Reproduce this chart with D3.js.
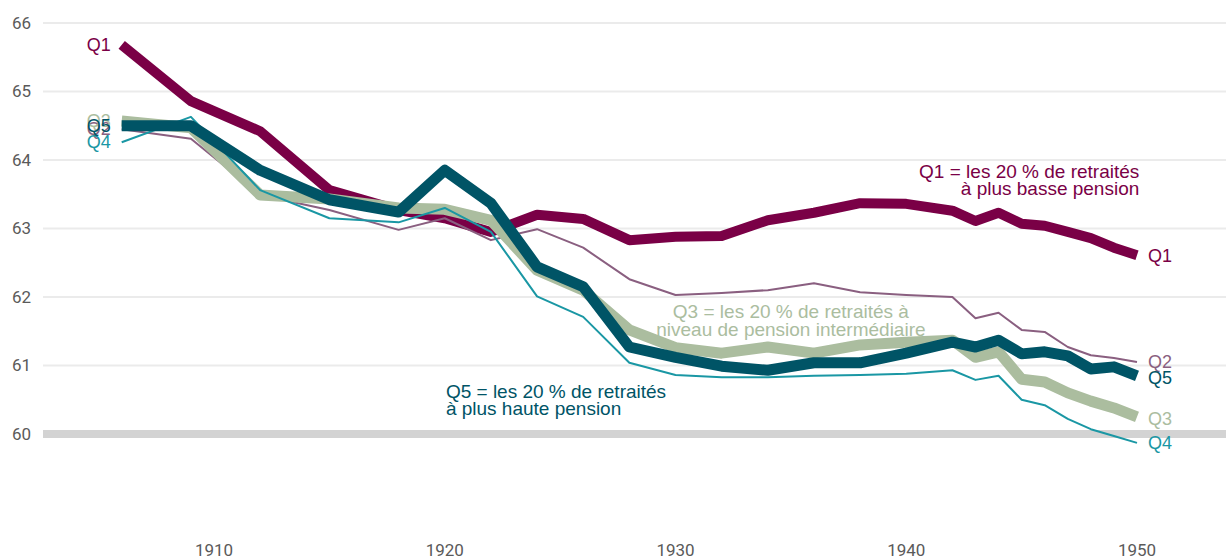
<!DOCTYPE html>
<html>
<head>
<meta charset="utf-8">
<script src="https://cdn.jsdelivr.net/npm/d3@7"></script>
<style>
  body { margin: 0; background: #fff; }
  svg { display: block; font-family: "Liberation Sans", Arial, sans-serif; }
  .tick-label { font-family: "Roboto", sans-serif; fill: #5a5a5a; font-size: 17px; }
</style>
</head>
<body>
<svg id="chart-svg" width="1226" height="560"></svg>
<script>
// Years of observation
const years = [1906, 1909, 1912, 1915, 1918, 1920, 1922, 1924, 1926, 1928, 1930, 1932, 1934, 1936, 1938, 1940, 1942, 1943, 1944, 1945, 1946, 1947, 1948, 1949, 1950];

// Age moyen de départ par quintile de pension
const q1 = [65.68, 64.86, 64.42, 63.56, 63.27, 63.15, 62.95, 63.20, 63.14, 62.83, 62.88, 62.89, 63.12, 63.23, 63.37, 63.36, 63.26, 63.11, 63.23, 63.07, 63.04, 62.95, 62.86, 62.72, 62.61];
const q2 = [64.45, 64.31, 63.49, 63.27, 62.98, 63.15, 62.83, 62.99, 62.72, 62.26, 62.03, 62.06, 62.10, 62.20, 62.07, 62.03, 62.00, 61.69, 61.77, 61.52, 61.49, 61.27, 61.15, 61.11, 61.05];
const q3 = [64.57, 64.47, 63.49, 63.43, 63.30, 63.28, 63.12, 62.39, 62.10, 61.52, 61.26, 61.18, 61.27, 61.18, 61.30, 61.34, 61.37, 61.12, 61.20, 60.80, 60.76, 60.60, 60.48, 60.38, 60.25];
const q4 = [64.26, 64.63, 63.56, 63.15, 63.09, 63.30, 62.95, 62.01, 61.71, 61.04, 60.86, 60.83, 60.83, 60.85, 60.86, 60.88, 60.93, 60.79, 60.85, 60.50, 60.42, 60.22, 60.07, 59.97, 59.87];
const q5 = [64.50, 64.50, 63.85, 63.42, 63.24, 63.85, 63.37, 62.44, 62.15, 61.27, 61.12, 60.99, 60.93, 61.04, 61.04, 61.18, 61.34, 61.27, 61.37, 61.17, 61.20, 61.14, 60.95, 60.98, 60.85];

const yTicks = [60, 61, 62, 63, 64, 65, 66];
const xTicks = [1910, 1920, 1930, 1940, 1950];

const colors = { Q1: "#7a0046", Q2: "#8a5f80", Q3: "#abbd9f", Q4: "#1a97a4", Q5: "#005466" };
const widths = { Q1: 10, Q2: 2, Q3: 11, Q4: 2, Q5: 11 };

const series = [
  { name: "Q1", values: q1 },
  { name: "Q2", values: q2 },
  { name: "Q3", values: q3 },
  { name: "Q4", values: q4 },
  { name: "Q5", values: q5 }
];

const svg = d3.select('#chart-svg');

// Scales
const xScale = d3.scaleLinear().domain([1910, 1950]).range([214, 1137]);
const yScale = d3.scaleLinear().domain([60, 66]).range([434, 23]);

// Y gridlines (60 drawn as a thicker reference line)
svg.append("g")
  .selectAll("line")
  .data(yTicks)
  .join("line")
  .attr("x1", 43)
  .attr("x2", 1226)
  .attr("y1", d => yScale(d))
  .attr("y2", d => yScale(d))
  .attr("stroke", d => d === 60 ? "#d3d3d3" : "#ebebeb")
  .attr("stroke-width", d => d === 60 ? 8 : 2);

// Y tick labels
svg.append("g")
  .selectAll("text")
  .data(yTicks)
  .join("text")
  .attr("class", "tick-label")
  .attr("x", 31)
  .attr("y", d => yScale(d))
  .attr("dy", "0.35em")
  .attr("text-anchor", "end")
  .text(d => d);

// X tick labels
svg.append("g")
  .selectAll("text")
  .data(xTicks)
  .join("text")
  .attr("class", "tick-label")
  .attr("x", d => xScale(d))
  .attr("y", 556)
  .attr("text-anchor", "middle")
  .text(d => d);

// Lines
const line = d3.line()
  .x((d, i) => xScale(years[i]))
  .y(d => yScale(d));

svg.append("g")
  .selectAll("path")
  .data(series)
  .join("path")
  .attr("fill", "none")
  .attr("stroke", d => colors[d.name])
  .attr("stroke-width", d => widths[d.name])
  .attr("stroke-linejoin", "round")
  .attr("d", d => line(d.values));

// Labels at start (left) and end (right)
const rightOffsets = { Q1: 0, Q2: 0, Q3: 2, Q4: 0, Q5: 2 };

svg.append("g")
  .selectAll("text")
  .data(series)
  .join("text")
  .attr("x", xScale(years[0]) - 11)
  .attr("y", d => yScale(d.values[0]))
  .attr("dy", "0.35em")
  .attr("text-anchor", "end")
  .attr("font-size", 18)
  .attr("fill", d => colors[d.name])
  .text(d => d.name);

svg.append("g")
  .selectAll("text")
  .data(series)
  .join("text")
  .attr("x", xScale(years[years.length - 1]) + 11)
  .attr("y", d => yScale(d.values[d.values.length - 1]) + rightOffsets[d.name])
  .attr("dy", "0.35em")
  .attr("text-anchor", "start")
  .attr("font-size", 18)
  .attr("fill", d => colors[d.name])
  .text(d => d.name);

// Annotations
const notes = [
  { name: "Q1", lines: ["Q1 = les 20 % de retraités", "à plus basse pension"], year: 1950.1, value: 63.74, anchor: "end" },
  { name: "Q3", lines: ["Q3 = les 20 % de retraités à", "niveau de pension intermédiaire"], year: 1935.0, value: 61.69, anchor: "middle" },
  { name: "Q5", lines: ["Q5 = les 20 % de retraités", "à plus haute pension"], year: 1920.05, value: 60.53, anchor: "start" }
];

notes.forEach(n => {
  const t = svg.append("text")
    .attr("x", xScale(n.year))
    .attr("y", yScale(n.value))
    .attr("text-anchor", n.anchor)
    .attr("font-size", 19)
    .attr("fill", colors[n.name]);
  n.lines.forEach((l, i) => {
    t.append("tspan")
      .attr("x", xScale(n.year))
      .attr("dy", i === 0 ? 0 : 17.5)
      .text(l);
  });
});
</script>
</body>
</html>
